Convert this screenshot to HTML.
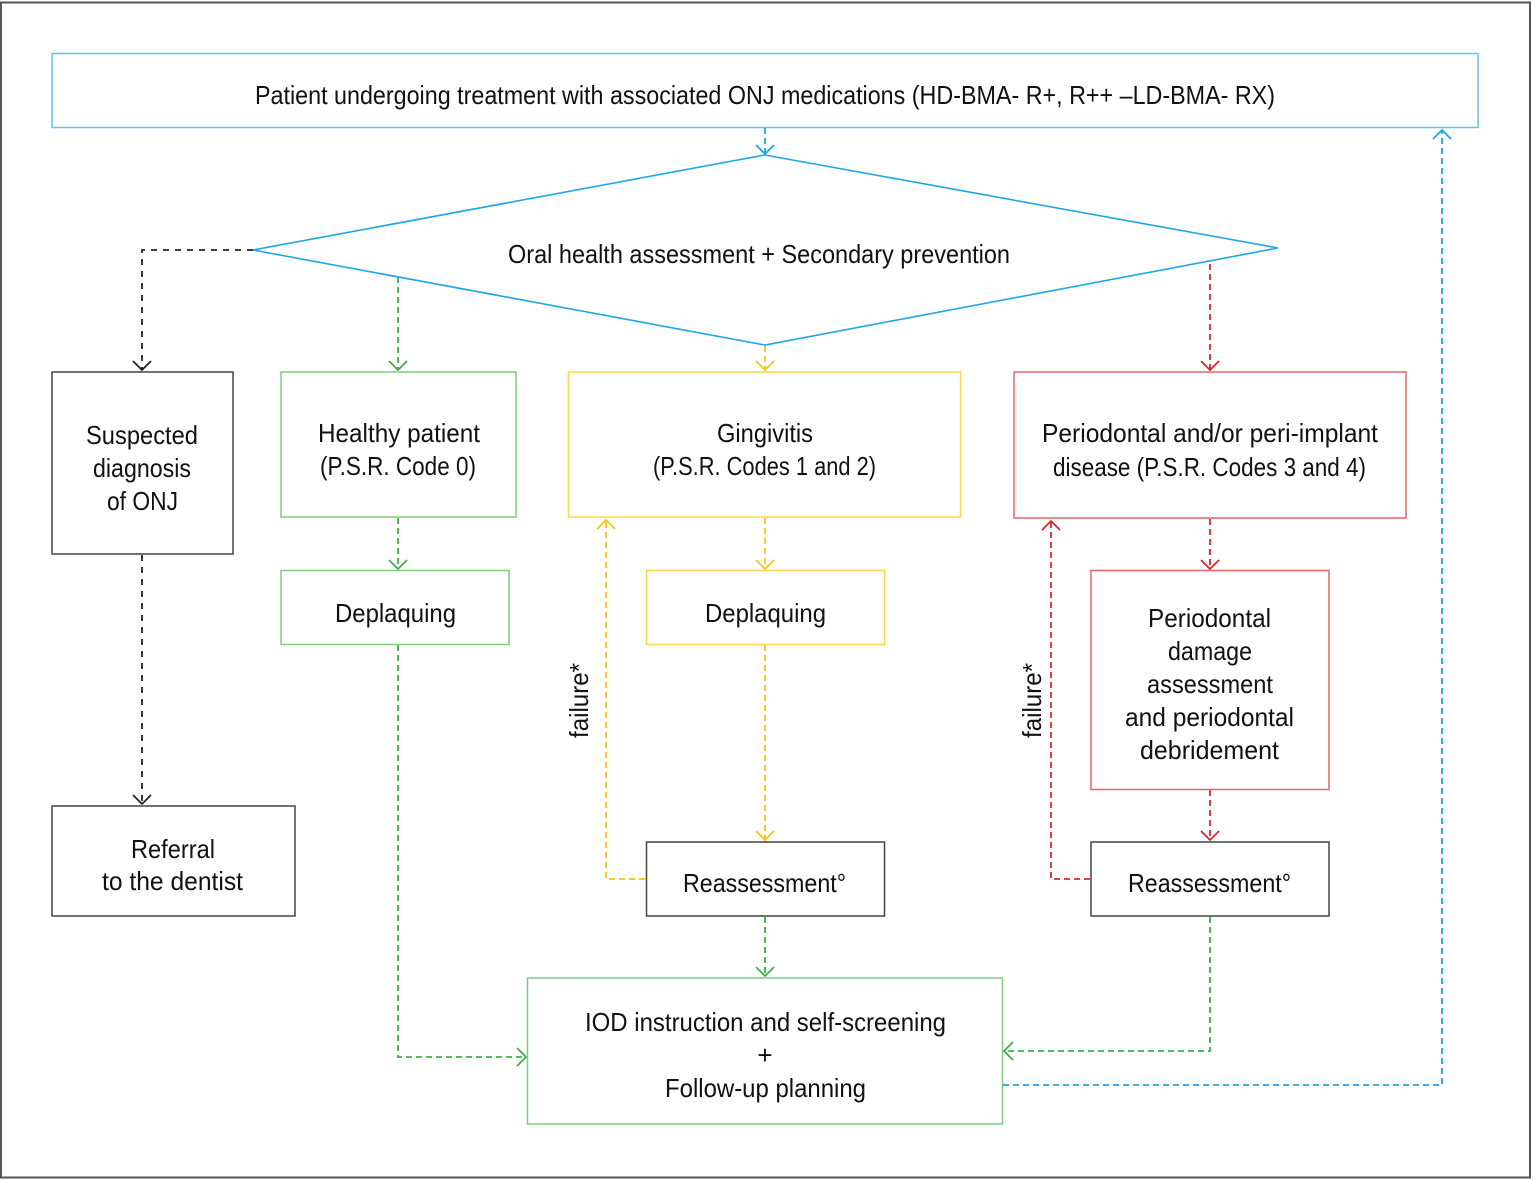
<!DOCTYPE html>
<html>
<head>
<meta charset="utf-8">
<style>
html,body{margin:0;padding:0;background:#fff;}
svg{display:block;}
text{font-family:"Liberation Sans",sans-serif;font-size:26px;fill:#111;}
</style>
</head>
<body>
<svg width="1536" height="1180" viewBox="0 0 1536 1180" xmlns="http://www.w3.org/2000/svg">
<rect x="0" y="0" width="1536" height="1180" fill="#fff"/>
<!-- outer frame -->
<rect x="1" y="2.5" width="1529" height="1175" fill="none" stroke="#555" stroke-width="2"/>

<!-- top box -->
<rect x="52" y="53.5" width="1426" height="74" fill="none" stroke="#5cc4f0" stroke-width="1.5"/>
<text x="255" y="104" textLength="1020" lengthAdjust="spacingAndGlyphs">Patient undergoing treatment with associated ONJ medications (HD-BMA- R+, R++ –LD-BMA- RX)</text>

<!-- diamond -->
<polygon points="765,155 1278,248 765,345 253,250" fill="none" stroke="#1fa6e6" stroke-width="1.6"/>
<text x="508" y="263" textLength="502" lengthAdjust="spacingAndGlyphs">Oral health assessment + Secondary prevention</text>

<!-- blue arrow top -> diamond -->
<g fill="none" stroke="#1fa6e6" stroke-width="1.8">
<path d="M765 128 V154" stroke-dasharray="6 4"/>
<path d="M756 145 L765 154 L774 145"/>
</g>

<!-- black: diamond -> suspected -->
<g fill="none" stroke="#222" stroke-width="1.8">
<path d="M253 250 H142 V370" stroke-dasharray="6 6"/>
<path d="M133 361 L142 370 L151 361"/>
</g>
<rect x="52" y="372" width="181" height="182" fill="none" stroke="#444" stroke-width="1.5"/>
<text x="86" y="444" textLength="112" lengthAdjust="spacingAndGlyphs">Suspected</text>
<text x="93" y="477" textLength="98" lengthAdjust="spacingAndGlyphs">diagnosis</text>
<text x="107" y="510" textLength="71" lengthAdjust="spacingAndGlyphs">of ONJ</text>

<!-- black: suspected -> referral -->
<g fill="none" stroke="#222" stroke-width="1.8">
<path d="M142 555 V804" stroke-dasharray="6 6"/>
<path d="M133 795 L142 804 L151 795"/>
</g>
<rect x="52" y="806" width="243" height="110" fill="none" stroke="#444" stroke-width="1.5"/>
<text x="131" y="858" textLength="84" lengthAdjust="spacingAndGlyphs">Referral</text>
<text x="102" y="890" textLength="141" lengthAdjust="spacingAndGlyphs">to the dentist</text>

<!-- green branch -->
<g fill="none" stroke="#3fae49" stroke-width="1.8">
<path d="M398 277 V370" stroke-dasharray="6 4"/>
<path d="M389 361 L398 370 L407 361"/>
<path d="M398 518 V569" stroke-dasharray="6 4"/>
<path d="M389 560 L398 569 L407 560"/>
<path d="M398 645 V1057 H526" stroke-dasharray="6 4"/>
<path d="M517 1048 L526 1057 L517 1066"/>
</g>
<rect x="281" y="372" width="235" height="145" fill="none" stroke="#7fcc7f" stroke-width="1.5"/>
<text x="318" y="442" textLength="162" lengthAdjust="spacingAndGlyphs">Healthy patient</text>
<text x="320" y="475" textLength="156" lengthAdjust="spacingAndGlyphs">(P.S.R. Code 0)</text>
<rect x="281" y="570.5" width="228" height="74" fill="none" stroke="#7fcc7f" stroke-width="1.5"/>
<text x="335" y="622" textLength="121" lengthAdjust="spacingAndGlyphs">Deplaquing</text>

<!-- yellow branch -->
<g fill="none" stroke="#ffc20e" stroke-width="1.8">
<path d="M765 346 V370" stroke-dasharray="6 4"/>
<path d="M756 361 L765 370 L774 361"/>
<path d="M765 518 V569" stroke-dasharray="6 4"/>
<path d="M756 560 L765 569 L774 560"/>
<path d="M765 645 V840" stroke-dasharray="6 4"/>
<path d="M756 831 L765 840 L774 831"/>
<path d="M645 879 H606 V520" stroke-dasharray="6 4"/>
<path d="M597 529 L606 520 L615 529"/>
</g>
<rect x="568.5" y="372" width="392" height="145" fill="none" stroke="#ffd54f" stroke-width="1.5"/>
<text x="717" y="442" textLength="96" lengthAdjust="spacingAndGlyphs">Gingivitis</text>
<text x="653" y="475" textLength="223" lengthAdjust="spacingAndGlyphs">(P.S.R. Codes 1 and 2)</text>
<rect x="646.5" y="570.5" width="238" height="74" fill="none" stroke="#ffd54f" stroke-width="1.5"/>
<text x="705" y="622" textLength="121" lengthAdjust="spacingAndGlyphs">Deplaquing</text>
<text transform="translate(588,738) rotate(-90)" x="0" y="0" textLength="75" lengthAdjust="spacingAndGlyphs">failure*</text>

<!-- middle reassessment -->
<rect x="646.5" y="842" width="238" height="74" fill="none" stroke="#444" stroke-width="1.5"/>
<text x="683" y="892" textLength="163" lengthAdjust="spacingAndGlyphs">Reassessment°</text>

<!-- green: reassessment -> IOD -->
<g fill="none" stroke="#3fae49" stroke-width="1.8">
<path d="M765 917 V976" stroke-dasharray="6 4"/>
<path d="M756 967 L765 976 L774 967"/>
</g>

<!-- red branch -->
<g fill="none" stroke="#d7282f" stroke-width="1.8">
<path d="M1210 264 V370" stroke-dasharray="6 4"/>
<path d="M1201 361 L1210 370 L1219 361"/>
<path d="M1210 519 V569" stroke-dasharray="6 4"/>
<path d="M1201 560 L1210 569 L1219 560"/>
<path d="M1210 790 V840" stroke-dasharray="6 4"/>
<path d="M1201 831 L1210 840 L1219 831"/>
<path d="M1090 879 H1051 V521" stroke-dasharray="6 4"/>
<path d="M1042 530 L1051 521 L1060 530"/>
</g>
<rect x="1014" y="372" width="392" height="146" fill="none" stroke="#e5646b" stroke-width="1.5"/>
<text x="1042" y="442" textLength="336" lengthAdjust="spacingAndGlyphs">Periodontal and/or peri-implant</text>
<text x="1053" y="476" textLength="313" lengthAdjust="spacingAndGlyphs">disease (P.S.R. Codes 3 and 4)</text>
<rect x="1091" y="570.5" width="238" height="219" fill="none" stroke="#e5646b" stroke-width="1.5"/>
<text x="1148" y="627" textLength="123" lengthAdjust="spacingAndGlyphs">Periodontal</text>
<text x="1168" y="660" textLength="84" lengthAdjust="spacingAndGlyphs">damage</text>
<text x="1147" y="693" textLength="126" lengthAdjust="spacingAndGlyphs">assessment</text>
<text x="1125" y="726" textLength="169" lengthAdjust="spacingAndGlyphs">and periodontal</text>
<text x="1140" y="759" textLength="139" lengthAdjust="spacingAndGlyphs">debridement</text>
<text transform="translate(1041,738) rotate(-90)" x="0" y="0" textLength="75" lengthAdjust="spacingAndGlyphs">failure*</text>

<!-- right reassessment -->
<rect x="1091" y="842" width="238" height="74" fill="none" stroke="#444" stroke-width="1.5"/>
<text x="1128" y="892" textLength="163" lengthAdjust="spacingAndGlyphs">Reassessment°</text>

<!-- green: right reassessment -> IOD -->
<g fill="none" stroke="#3fae49" stroke-width="1.8">
<path d="M1210 917 V1051 H1004" stroke-dasharray="6 4"/>
<path d="M1013 1042 L1004 1051 L1013 1060"/>
</g>

<!-- IOD box -->
<rect x="527.5" y="978" width="475" height="146" fill="none" stroke="#7fcc7f" stroke-width="1.5"/>
<text x="585" y="1031" textLength="361" lengthAdjust="spacingAndGlyphs">IOD instruction and self-screening</text>
<text x="765" y="1064" text-anchor="middle">+</text>
<text x="665" y="1097" textLength="201" lengthAdjust="spacingAndGlyphs">Follow-up planning</text>

<!-- blue feedback loop -->
<g fill="none" stroke="#1fa6e6" stroke-width="1.8">
<path d="M1003 1085 H1442 V130" stroke-dasharray="6 4"/>
<path d="M1433 139 L1442 130 L1451 139"/>
</g>
</svg>
</body>
</html>
